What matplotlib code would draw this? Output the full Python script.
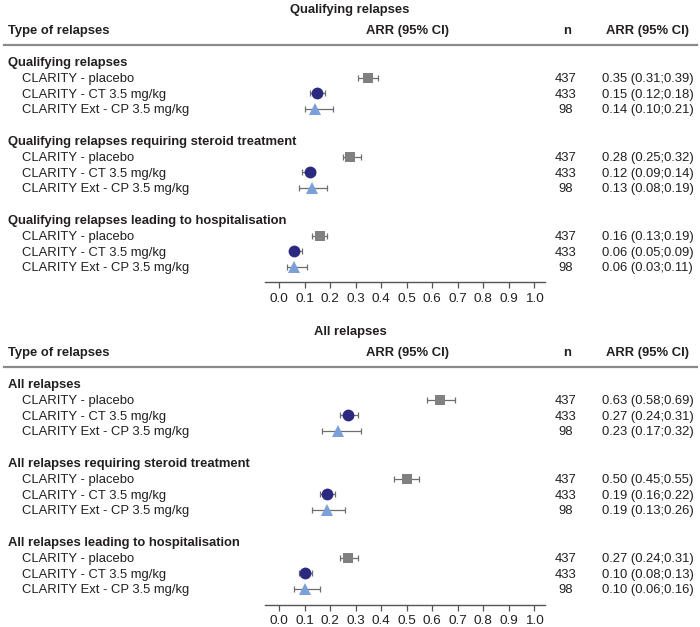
import matplotlib
matplotlib.use("Agg")
import matplotlib.pyplot as plt
import numpy as np

plt.rcParams['font.family'] = ['Liberation Sans', 'DejaVu Sans']

# ---------------- data ----------------
panel_titles = ["Qualifying relapses", "All relapses"]
group_labels = [
    ["Qualifying relapses",
     "Qualifying relapses requiring steroid treatment",
     "Qualifying relapses leading to hospitalisation"],
    ["All relapses",
     "All relapses requiring steroid treatment",
     "All relapses leading to hospitalisation"],
]
arms = ["CLARITY - placebo", "CLARITY - CT 3.5 mg/kg", "CLARITY Ext - CP 3.5 mg/kg"]
n_values = [437, 433, 98]

# ARR estimates [panel][group][arm]
arr = [
    [[0.35, 0.15, 0.14], [0.28, 0.12, 0.13], [0.16, 0.06, 0.06]],
    [[0.63, 0.27, 0.23], [0.50, 0.19, 0.19], [0.27, 0.10, 0.10]],
]
ci_low = [
    [[0.31, 0.12, 0.10], [0.25, 0.09, 0.08], [0.13, 0.05, 0.03]],
    [[0.58, 0.24, 0.17], [0.45, 0.16, 0.13], [0.24, 0.08, 0.06]],
]
ci_high = [
    [[0.39, 0.18, 0.21], [0.32, 0.14, 0.19], [0.19, 0.09, 0.11]],
    [[0.69, 0.31, 0.32], [0.55, 0.22, 0.26], [0.31, 0.13, 0.16]],
]
x_ticks = [0.0, 0.1, 0.2, 0.3, 0.4, 0.5, 0.6, 0.7, 0.8, 0.9, 1.0]
x_tick_labels = ["0.0", "0.1", "0.2", "0.3", "0.4", "0.5", "0.6", "0.7", "0.8", "0.9", "1.0"]

# ---------------- styles ----------------
W, H = 700, 627
markers = ["s", "o", "^"]
mcolors = ["#808080", "#2b2a80", "#7b9fd9"]
msizes = [7.5, 8.5, 8.0]
txt_color = "#231f20"
fs = 9.4
tdy = 1.3  # text vertical nudge (px)

fig = plt.figure(figsize=(W / 100, H / 100), dpi=100)


def fx(px):
    return px / W


def fy(py):
    return 1 - py / H


def ty(py):
    return fy(py + tdy)


panel_offset = 322
x0_px = 279.0      # pixel of x=0
px_per_unit = 255.0
ax_left_px, ax_right_px = 265.0, 545.0

for p in range(2):
    off = p * panel_offset
    # title
    fig.text(fx(350), ty(9 + off), panel_titles[p], ha="center", va="center",
             fontsize=fs, fontweight="bold", color=txt_color)
    # header row
    hy = ty(30 + off)
    fig.text(fx(8), hy, "Type of relapses", ha="left", va="center",
             fontsize=fs, fontweight="bold", color=txt_color)
    fig.text(fx(408), hy, "ARR (95% CI)", ha="center", va="center",
             fontsize=fs, fontweight="bold", color=txt_color)
    fig.text(fx(567), hy, "n", ha="center", va="center",
             fontsize=fs, fontweight="bold", color=txt_color)
    fig.text(fx(648), hy, "ARR (95% CI)", ha="center", va="center",
             fontsize=fs, fontweight="bold", color=txt_color)
    fig.add_artist(plt.Line2D([fx(4), fx(697)], [fy(44.5 + off)] * 2,
                              color="#8a8a8a", lw=1.6))

    # forest axes (y in pixel units of the figure, inverted)
    ax_top_px = 50 + off
    ax_bot_px = 282.5 + off
    ax = fig.add_axes([fx(ax_left_px), fy(ax_bot_px),
                       fx(ax_right_px - ax_left_px), (ax_bot_px - ax_top_px) / H])
    ax.set_xlim((ax_left_px - x0_px) / px_per_unit, (ax_right_px - x0_px) / px_per_unit)
    ax.set_ylim(ax_bot_px, ax_top_px)
    ax.patch.set_alpha(0)
    for s in ["top", "right", "left"]:
        ax.spines[s].set_visible(False)
    ax.spines["bottom"].set_color("#555555")
    ax.spines["bottom"].set_linewidth(1.0)
    ax.set_yticks([])
    ax.set_xticks(x_ticks)
    ax.set_xticklabels(x_tick_labels)
    ax.tick_params(axis="x", direction="out", length=4, width=0.9, color="#555555",
                   labelsize=fs + 0.3, labelcolor=txt_color, pad=3.5)

    for g in range(3):
        gy = 62 + 79 * g + off
        fig.text(fx(8), ty(gy), group_labels[p][g], ha="left", va="center",
                 fontsize=fs, fontweight="bold", color=txt_color)
        for a in range(3):
            ry = gy + 15.7 * (a + 1)
            fig.text(fx(22), ty(ry), arms[a], ha="left", va="center",
                     fontsize=fs, color=txt_color)
            fig.text(fx(566), ty(ry), str(n_values[a]), ha="center", va="center",
                     fontsize=fs, color=txt_color)
            fig.text(fx(602), ty(ry),
                     f"{arr[p][g][a]:.2f} ({ci_low[p][g][a]:.2f};{ci_high[p][g][a]:.2f})",
                     ha="left", va="center", fontsize=fs, color=txt_color)
            v = arr[p][g][a]
            ax.errorbar([v], [ry],
                        xerr=[[v - ci_low[p][g][a]], [ci_high[p][g][a] - v]],
                        fmt="none", ecolor="#6e6e6e", elinewidth=0.9,
                        capsize=2.5, capthick=0.9, zorder=2)
            ax.plot([v], [ry], marker=markers[a], color=mcolors[a],
                    markersize=msizes[a], linestyle="none", zorder=3,
                    markeredgewidth=0)

fig.savefig("out.png", dpi=100)
